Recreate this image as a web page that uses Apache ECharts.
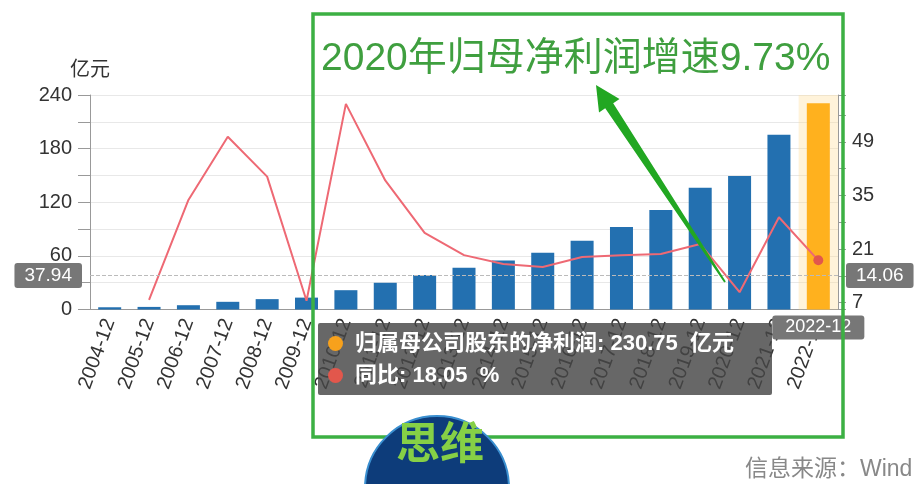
<!DOCTYPE html>
<html><head><meta charset="utf-8">
<script src="https://cdn.jsdelivr.net/npm/echarts@6/dist/echarts.min.js"></script>
<style>html,body{margin:0;padding:0;background:#fff}#c{width:914px;height:484px}</style>
</head><body><div id="c"></div>
<script>
const categories = ['2004-12','2005-12','2006-12','2007-12','2008-12','2009-12','2010-12','2011-12','2012-12','2013-12','2014-12','2015-12','2016-12','2017-12','2018-12','2019-12','2020-12','2021-12','2022-12'];
const profit = [2.5, 2.9, 4.8, 8.6, 11.6, 13.3, 21.6, 29.9, 38.6, 46.7, 54.7, 63.6, 76.8, 92.3, 111.2, 136.2, 149.5, 195.47, 230.75];
const growth = [null, 7.7, 33.8, 50.3, 39.9, 7.5, 58.9, 38.9, 25.2, 19.4, 17.1, 16.3, 18.9, 19.4, 19.7, 22.3, 9.73, 29.3, 18.05];
const leftTickLabels = [0, 60, 120, 180, 240];
const rightTickLabels = [7, 21, 35, 49];
const highlightIndex = 18;
const pointerValue = 37.94;
const units = ['亿元', '%'];
const annotationText = '2020年归母净利润增速9.73%';
const sourceText = '信息来源：Wind';

const FONT = '"Liberation Sans", "Noto Sans CJK SC", sans-serif';
const chart = echarts.init(document.getElementById('c'));
chart.setOption({
  animation: false,
  textStyle: { fontFamily: FONT },
  grid: { left: 90, right: 76, top: 95, bottom: 174.5 },
  tooltip: {
    trigger: 'axis', triggerOn: 'none', alwaysShowContent: true, transitionDuration: 0,
    position: [318, 323],
    backgroundColor: 'rgba(70,70,70,0.82)', borderWidth: 0, padding: [4, 10],
    extraCssText: 'border-radius:2px;box-shadow:none;width:434px;',
    textStyle: { color: '#fff', fontSize: 22, fontWeight: 'bold', fontFamily: FONT },
    axisPointer: {
      type: 'cross',
      crossStyle: { color: '#bbb', type: 'dashed', width: 1 },
      label: { backgroundColor: '#777', color: '#fff', precision: 2, fontSize: 19, padding: [3, 10], margin: 8, fontFamily: FONT }
    },
    formatter: function (params) {
      return params.map(function (p, i) {
        const mk = '<span style="display:inline-block;width:15px;height:15px;border-radius:50%;background:' + p.color + ';margin-right:12px;vertical-align:-1px"></span>';
        return '<div style="line-height:32px;white-space:nowrap">' + mk + p.seriesName + ': ' + p.value + '&nbsp;&nbsp;' + units[p.seriesIndex] + '</div>';
      }).join('');
    }
  },
  xAxis: {
    type: 'category', data: categories,
    axisLine: { lineStyle: { color: '#999' } },
    axisTick: { alignWithLabel: true, length: 10, lineStyle: { color: '#999' } },
    axisLabel: { rotate: 70, interval: 0, fontSize: 20, color: '#333', margin: 10 },
    axisPointer: {
      type: 'shadow', z: 1, shadowStyle: { color: 'rgba(255,222,150,0.35)' },
      label: { show: true, margin: 6, padding: [3, 13], fontSize: 18 }
    }
  },
  yAxis: [
    {
      type: 'value', min: 0, max: 240, interval: 30,
      name: '亿元', nameTextStyle: { fontSize: 20, color: '#333', align: 'center' }, nameGap: 15,
      axisLine: { show: true, lineStyle: { color: '#999' } },
      axisTick: { show: true, length: 12, lineStyle: { color: '#999' } },
      axisLabel: { fontSize: 20, color: '#333', margin: 18,
        formatter: function (v) { return leftTickLabels.indexOf(v) >= 0 ? String(v) : ''; } },
      splitLine: { lineStyle: { color: '#e8e8e8' } }
    },
    {
      type: 'value', min: 5.207, max: 61.207, minInterval: 7, maxInterval: 7,
      axisLine: { show: true, lineStyle: { color: '#999' } },
      axisTick: { show: true, length: 8, lineStyle: { color: '#999' } },
      axisLabel: { fontSize: 20, color: '#333', margin: 14,
        formatter: function (v) { return rightTickLabels.indexOf(Math.round(v)) >= 0 && Math.abs(v - Math.round(v)) < 1e-6 ? String(Math.round(v)) : ''; } },
      splitLine: { show: false }
    }
  ],
  series: [
    {
      name: '归属母公司股东的净利润', type: 'bar', yAxisIndex: 0, data: profit, barWidth: 23, z: 3,
      itemStyle: { color: function (p) { return p.dataIndex === highlightIndex ? '#f7a11c' : '#2370b0'; } }
    },
    {
      name: '同比', type: 'line', yAxisIndex: 1, data: growth, showSymbol: false, z: 4,
      symbol: 'circle', symbolSize: 9,
      lineStyle: { color: '#d9606a', width: 2 }, itemStyle: { color: '#e2574c' }
    }
  ],
  graphic: [
    { type: 'rect', z: 100, shape: { x: 313, y: 14, width: 530, height: 423 },
      style: { fill: 'none', stroke: '#3cb043', lineWidth: 3.5 } },
    { type: 'text', z: 101, x: 321, y: 59,
      style: { text: annotationText, fill: '#3f9f3f', font: '39px ' + FONT, verticalAlign: 'middle' } },
    { type: 'polygon', z: 101,
      shape: { points: [[596,85],[619.5,99.1],[613.2,103.3],[725.8,281.5],[724.2,282.5],[605.2,108.3],[599,112.5]] },
      style: { fill: '#22a722' } },
    { type: 'circle', z: 102, shape: { cx: 437, cy: 488, r: 72 },
      style: { fill: '#0d3c7a', stroke: '#3a8fd0', lineWidth: 2 } },
    { type: 'text', z: 103, x: 440, y: 442,
      style: { text: '思维', fill: '#86d046', font: 'bold 44px "Noto Sans CJK SC", serif', align: 'center', verticalAlign: 'middle' } },
    { type: 'text', z: 101, x: 745, y: 470,
      style: { text: sourceText, fill: '#888', font: '23px ' + FONT, verticalAlign: 'middle' } }
  ]
});
const px = chart.convertToPixel({ xAxisIndex: 0 }, categories[highlightIndex]);
const py = chart.convertToPixel({ yAxisIndex: 0 }, pointerValue);
chart.dispatchAction({ type: 'showTip', x: px, y: py });
</script>
</body></html>
